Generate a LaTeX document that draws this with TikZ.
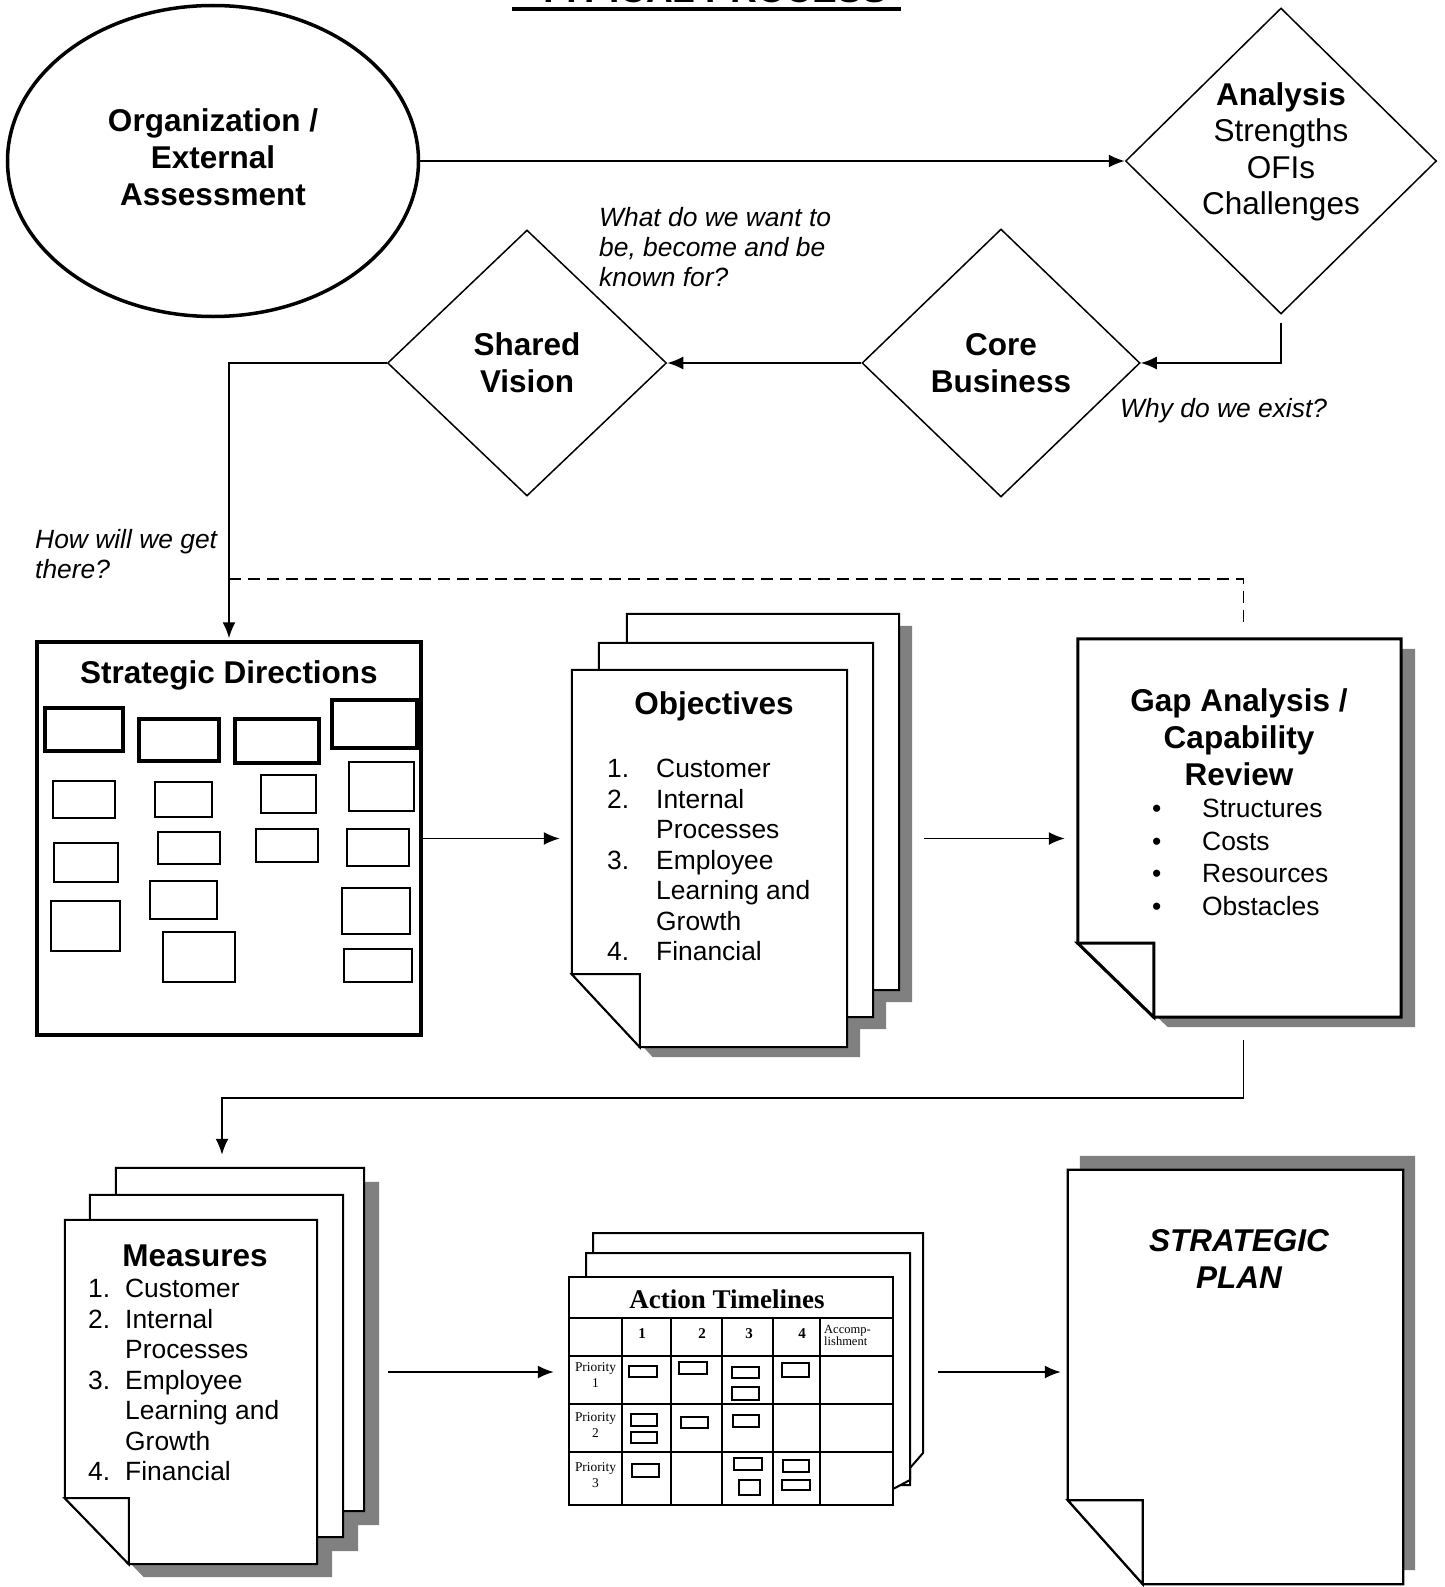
\documentclass[tikz,border=0pt]{standalone}
\usepackage{fontspec}
\setmainfont{Liberation Sans}
\newfontfamily\tabface{Liberation Serif}
\usetikzlibrary{positioning, shapes.geometric, arrows.meta, calc}

\newcommand\headfont{\fontsize{31.5}{37}\selectfont\bfseries}
\newcommand\bodyfont{\fontsize{26.4}{30.5}\selectfont}
\newcommand\askfont{\fontsize{26.4}{30}\selectfont\itshape}

\tikzset{arr/.style={draw, line width=1.8pt, -{Latex[length=16pt,width=13pt]}}}
\tikzset{dashline/.style={draw, line width=1.6pt, dash pattern=on 12pt off 7pt}}
\tikzset{dia/.style={draw, diamond, line width=1.5pt, inner sep=0pt, align=center, font=\headfont}}
\tikzset{ask/.style={anchor=base west, inner sep=0pt, align=left, font=\askfont}}
\tikzset{frame/.style args={#1|#2}{inner sep=0pt, minimum width=#1, minimum height=#2}}
\tikzset{sheet/.style={draw, fill=white, line width=2pt}}
\tikzset{pshadow/.style={fill=black!50}}
\tikzset{tabline/.style={draw, line width=2pt}}
\tikzset{cell/.style={draw, line width=1.5pt}}

% outline of a sheet with a cut lower left corner, moved by (#4,#5)
\newcommand\sheetpath[5]{([shift={(#4,#5)}]#1.north west) -- ([shift={(#4,#5)}]#1.north east)
		-- ([shift={(#4,#5)}]#1.south east) -- ([shift={(#4,#5)}, xshift=#2]#1.south west)
		-- ([shift={(#4,#5)}, yshift=#3]#1.south west) -- cycle}
\newcommand\pageshadow[5]{
		\fill[pshadow] \sheetpath{#1}{#2}{#3}{#4}{#5};
	}
\newcommand\backpage[3]{
		\draw[sheet] \sheetpath{#1}{#2}{#3}{0}{0};
	}
% page with a folded lower left corner
\newcommand\foldpage[4][]{
		\draw[sheet, #1] \sheetpath{#2}{#3}{#4}{0}{0};
		\draw[sheet, #1] ([yshift=#4]#2.south west) -- ([xshift=#3, yshift=#4]#2.south west)
			-- ([xshift=#3]#2.south west) -- cycle;
	}

\begin{document}
\begin{tikzpicture}[x=1pt, y=-1pt]
			\useasboundingbox (0,0) rectangle (1444,1587);

			% title, cut by the top edge
			\node[font=\fontsize{37}{40}\selectfont\bfseries, anchor=base] (title) at (712,3) {TYPICAL PROCESS};
			\draw[line width=4pt] (512,9) -- (901,9);

			% top part
			\node[draw, ellipse, line width=3.5pt, minimum width=411, minimum height=311] (org) at (213,161) {};
			\node[align=center, font=\headfont] (orgtext) at (213,157) {Organization /\\External\\Assessment};
			\node[dia, minimum width=311, minimum height=306] (ana) at (1281,161) {};
			\node[align=center, font=\fontsize{31.5}{36.5}\selectfont] (anatext) at (1281,152) {\textbf{Analysis}\\Strengths\\OFIs\\Challenges};
			\node[dia, minimum width=278, minimum height=268] (core) at (1001,363) {Core\\Business};
			\node[dia, minimum width=279, minimum height=266] (vis) at (527,363) {Shared\\Vision};

			\node[ask] (qvis) at (599,286.5) {What do we want to\\be, become and be\\known for?};
			\node[ask] (qcore) at (1120,417.5) {Why do we exist?};
			\node[ask] (qsd) at (35,578.5) {How will we get\\there?};

			% strategic directions
			\node[draw, line width=3.5pt, frame={384|393}] (sd) at (229,838.5) {};
			\node[font=\headfont] (sdtitle) at (229,675) {Strategic Directions};
			\foreach \a/\b/\c/\d in {45/708/123/751, 139/719/219/761, 235/719/319/763, 332/700/417/748}
				\draw[line width=3.2pt] (\a,\b) rectangle (\c,\d);
			\foreach \a/\b/\c/\d in {53/781/115/818, 155/782/212/817, 261/775/316/813, 349/762/414/811,
				54/843/118/882, 158/832/220/864, 256/829/318/862, 347/829/409/866, 150/881/217/919,
				342/888/410/934, 51/901/120/951, 163/932/235/982, 344/949/412/982}
				\draw[line width=1.8pt] (\a,\b) rectangle (\c,\d);

			% page frames
			\node[frame={272|376}] (objback) at (763,802) {};
			\node[frame={274|374}] (objmid) at (736,830) {};
			\node[frame={275|377}] (obj) at (709.5,858.5) {};
			\node[frame={323|378}] (gap) at (1239.5,828) {};
			\node[frame={248|343}] (meaback) at (240,1339.5) {};
			\node[frame={253|342}] (meamid) at (216.5,1366) {};
			\node[frame={252|344}] (mea) at (191,1392) {};
			\node[frame={324|228}] (act) at (731,1391) {};
			\node[frame={335|414}] (plan) at (1235.5,1377) {};

			% shadows
			\pageshadow{objback}{68pt}{73pt}{13}{12}
			\pageshadow{objmid}{68pt}{73pt}{13}{12}
			\pageshadow{obj}{68pt}{73pt}{13}{10}
			\pageshadow{gap}{76pt}{74pt}{14}{10}
			\pageshadow{meaback}{64pt}{66pt}{15}{14}
			\pageshadow{meamid}{64pt}{66pt}{15}{14}
			\pageshadow{mea}{64pt}{66pt}{15}{13}
			\pageshadow{plan}{75pt}{84pt}{12}{-14}

			% objectives
			\backpage{objback}{68pt}{73pt}
			\backpage{objmid}{68pt}{73pt}
			\foldpage{obj}{68pt}{73pt}
			\node[font=\headfont] (objtitle) at (714,706) {Objectives};
			\node[anchor=base west, inner sep=0pt, font=\bodyfont] (objlist) at (607,777.5) {\begin{tabular}[t]{@{}p{49pt}@{}l@{}}
				1. & Customer\\ 2. & Internal\\ & Processes\\ 3. & Employee\\ & Learning and\\ & Growth\\ 4. & Financial
			\end{tabular}};

			% gap analysis
			\foldpage[line width=3pt]{gap}{76pt}{74pt}
			\node[align=center, font=\headfont] (gaptitle) at (1239,737) {Gap Analysis /\\Capability\\Review};
			\node[anchor=base west, inner sep=0pt, font=\fontsize{26.4}{32.5}\selectfont] (gaplist) at (1152,817.5) {\begin{tabular}[t]{@{}p{50pt}@{}l@{}}
				\textbullet & Structures\\ \textbullet & Costs\\ \textbullet & Resources\\ \textbullet & Obstacles
			\end{tabular}};

			% measures
			\backpage{meaback}{64pt}{66pt}
			\backpage{meamid}{64pt}{66pt}
			\foldpage{mea}{64pt}{66pt}
			\node[font=\headfont] (meatitle) at (195,1256) {Measures};
			\node[anchor=base west, inner sep=0pt, font=\bodyfont] (mealist) at (88,1297.5) {\begin{tabular}[t]{@{}p{37pt}@{}l@{}}
				1. & Customer\\ 2. & Internal\\ & Processes\\ 3. & Employee\\ & Learning and\\ & Growth\\ 4. & Financial
			\end{tabular}};

			% action timelines
			\draw[sheet] (593,1233) -- (923,1233) -- (923,1453) -- (910,1468) -- (910,1485) -- (593,1485) -- cycle;
			\draw[sheet] (586,1253) -- (910,1253) -- (910,1480) -- (893,1489) -- (586,1489) -- cycle;
			\draw[sheet, line width=2.5pt] (act.north west) rectangle (act.south east);
			\foreach \y in {1318,1356,1404,1452}
				\draw[tabline] (act.west |- 0,\y) -- (act.east |- 0,\y);
			\foreach \x in {622,671,722,773,820}
				\draw[tabline] (\x,1318) -- (\x,0 |- act.south);
			\node[font=\tabface\bfseries\fontsize{27}{30}\selectfont] (acttitle) at (727,1299) {Action Timelines};
			\foreach \x/\n in {642/1, 702/2, 749/3, 802/4}
				\node[font=\tabface\bfseries\fontsize{15}{16}\selectfont] (col\n) at (\x,1334) {\n};
			\node[anchor=north west, align=left, inner sep=0pt, font=\tabface\fontsize{12.5}{12.5}\selectfont] (accomp) at (824,1325) {Accomp-\\lishment};
			\foreach \y/\n in {1375/1, 1425.5/2, 1475/3}
				\node[align=center, inner sep=0pt, font=\tabface\fontsize{13.4}{16}\selectfont] (prio\n) at (595.5,\y) {Priority\\\n};
			\foreach \a/\b/\c/\d in {629/1366/657/1377, 679/1362/707/1374, 732/1367/759/1378, 732/1387/759/1400,
				782/1363/809/1377, 631/1414/657/1426, 631/1432/657/1443, 681/1417/708/1428, 733/1415/759/1427,
				632/1464/659/1477, 734/1458/762/1470, 739/1480/760/1495, 783/1460/809/1472, 782/1480/810/1490}
				\draw[cell] (\a,\b) rectangle (\c,\d);

			% strategic plan
			\foldpage[line width=2.2pt]{plan}{75pt}{84pt}
			\node[align=center, font=\headfont\itshape] (plantitle) at (1239,1259) {STRATEGIC\\PLAN};

			% connectors
			\draw[arr] (org) -- (ana);
			\draw[arr, shorten <=8pt] (ana.south) |- (core.east);
			\draw[arr] (core) -- (vis);
			\draw[arr, shorten >=2pt] (vis.west) -| (sd.north);
			\coordinate (back) at (sd.north |- 0,579);
			\draw[dashline] (back) -| ([xshift=4pt, yshift=12pt]gap.north);
			\draw[arr, shorten >=12pt] (sd.east) -- (sd.east -| obj.west);
			\draw[arr, shorten <=77pt, shorten >=13pt] (sd.east -| obj.east) -- (sd.east -| gap.west);
			\coordinate (turn) at (222,1098);
			\draw[arr, shorten <=23pt, shorten >=13pt] ([xshift=4pt]gap.south) |- (turn) -- (turn |- meaback.north);
			\draw[arr, shorten <=71pt, shorten >=15pt] ([yshift=20pt]mea.east) -- ([yshift=20pt]mea.east -| act.west);
			\draw[arr, shorten <=45pt, shorten >=7pt] ([yshift=19pt]act.east) -- ([yshift=19pt]act.east -| plan.west);
		\end{tikzpicture}
\end{document}
